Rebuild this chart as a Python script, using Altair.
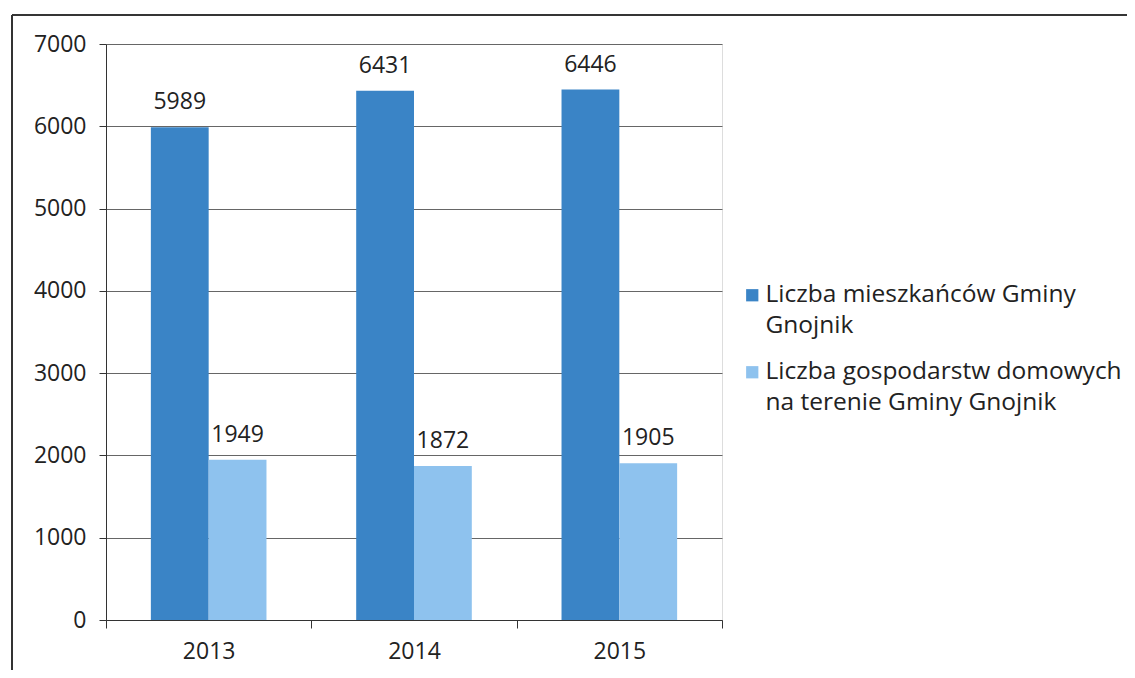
import altair as alt
import pandas as pd

years = ["2013", "2014", "2015"]
series = ["Liczba mieszkańców Gminy\nGnojnik",
          "Liczba gospodarstw domowych\nna terenie Gminy Gnojnik"]
residents = [5989, 6431, 6446]
households = [1949, 1872, 1905]
colors = ["#3a84c6", "#8ec2ee"]

rows = []
for i, y in enumerate(years):
    rows.append({"year": y, "series": series[0], "value": residents[i], "order": 0})
    rows.append({"year": y, "series": series[1], "value": households[i], "order": 1})
df = pd.DataFrame(rows)

FONT = "Open Sans"

xscale = alt.Scale(paddingInner=0, paddingOuter=0)
base = alt.Chart(df).encode(
    x=alt.X("year:N", scale=xscale, title=None,
            axis=alt.Axis(tickBand="extent", labelAngle=0, labelFontSize=23,
                          labelFont=FONT, labelColor="#222", labelPadding=12,
                          domainColor="#333", tickColor="#333", tickSize=8,
                          grid=False)),
    xOffset=alt.XOffset("order:O", scale=alt.Scale(paddingInner=0, paddingOuter=0.776)),
)

bars = base.mark_bar().encode(
    y=alt.Y("value:Q", scale=alt.Scale(domain=[0, 7000]), title=None,
            axis=alt.Axis(values=list(range(0, 7001, 1000)), format="d",
                          labelFontSize=23, labelFont=FONT, labelColor="#222",
                          labelPadding=13, domainColor="#333", tickColor="#333",
                          tickSize=7, gridColor="#666", gridWidth=1)),
    color=alt.Color("series:N", scale=alt.Scale(domain=series, range=colors),
                    legend=alt.Legend(title=None, orient="none", legendX=634, legendY=239,
                                      labelExpr="split(datum.label, '\\n')",
                                      labelFontSize=24.5, labelFont=FONT, labelColor="#222",
                                      symbolType="square", symbolSize=150,
                                      symbolStrokeWidth=0, rowPadding=21,
                                      labelLimit=500, symbolOffset=0, labelOffset=1)),
)

labels = base.mark_text(dy=-25, fontSize=23, font=FONT, color="#222").encode(
    y="value:Q",
    text=alt.Text("value:Q", format="d"),
)

frame_top = alt.Chart(df).mark_rule(color="#333", strokeWidth=1.2, clip=False).encode(
    x=alt.value(-94), x2=alt.value(1040), y=alt.value(-29))
frame_left = alt.Chart(df).mark_rule(color="#333", strokeWidth=1.5, clip=False).encode(
    x=alt.value(-94), y=alt.value(-29), y2=alt.value(640))

chart = alt.layer(bars, labels, frame_top, frame_left).properties(
    width=616, height=576,
    padding={"left": 98, "top": 36, "right": 405, "bottom": 50},
    autosize=alt.AutoSizeParams(type="none"),
).configure_view(stroke=None).configure(style={"guide-label": {"lineHeight": 31}})

chart.save("out.html", embed_options={"renderer": "svg", "actions": False})
